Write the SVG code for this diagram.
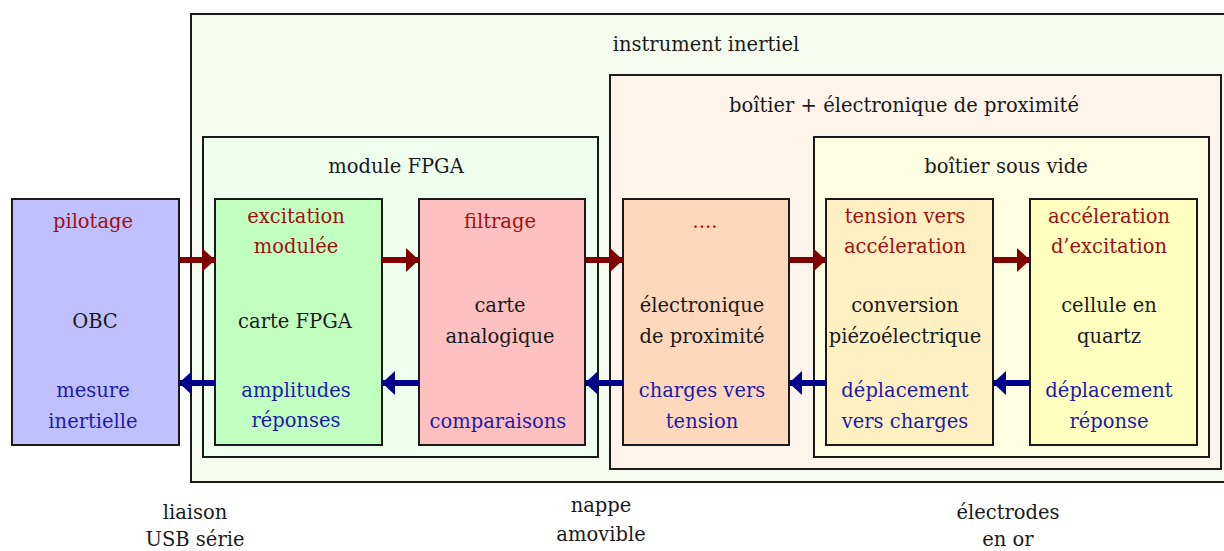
<svg xmlns="http://www.w3.org/2000/svg" width="1224" height="551" viewBox="0 0 1224 551">
<defs>
<style>
text{font-family:'DejaVu Serif','Liberation Serif',serif;font-size:19.5px;text-anchor:middle;fill:#1a1a1a}
.r{fill:#a01010}
.b{fill:#1c1ca8}
.box{stroke:#1a1a1a;stroke-width:2}
.ar{stroke:#800000;stroke-width:6;fill:none}
.ab{stroke:#00008a;stroke-width:6;fill:none}
</style>
<marker id="mr" markerWidth="14" markerHeight="24" refX="13" refY="12" orient="auto" markerUnits="userSpaceOnUse"><path d="M0,0 L13,12 L0,24 Z" fill="#800000"/></marker>
<marker id="mb" markerWidth="14" markerHeight="24" refX="13" refY="12" orient="auto" markerUnits="userSpaceOnUse"><path d="M0,0 L13,12 L0,24 Z" fill="#00008a"/></marker>
</defs>
<rect width="1224" height="551" fill="#fff"/>
<g id="instrument">
<rect class="box" x="191" y="14" width="1040" height="468" fill="#f5fcef"/>
<text x="706" y="51">instrument inertiel</text>
</g>
<g id="boitier-electronique">
<rect class="box" x="610" y="75" width="611" height="394" fill="#fdf5eb"/>
<text x="904" y="112">boîtier + électronique de proximité</text>
</g>
<g id="module-fpga">
<rect class="box" x="203" y="137" width="395" height="320" fill="#eefff0"/>
<text x="396" y="173">module FPGA</text>
</g>
<g id="boitier-vide">
<rect class="box" x="814" y="137" width="395" height="320" fill="#fffde2"/>
<text x="1006" y="173">boîtier sous vide</text>
</g>
<g id="obc">
<rect class="box" x="12" y="199" width="167" height="246" fill="#c0c0ff"/>
<text class="r" x="93" y="228">pilotage</text>
<text x="95" y="328">OBC</text>
<text class="b" x="93" y="397">mesure</text>
<text class="b" x="93" y="428">inertielle</text>
</g>
<g id="carte-fpga">
<rect class="box" x="215" y="199" width="167" height="246" fill="#c0ffc0"/>
<text class="r" x="296" y="223">excitation</text>
<text class="r" x="296" y="253">modulée</text>
<text x="295" y="328">carte FPGA</text>
<text class="b" x="296" y="397">amplitudes</text>
<text class="b" x="296" y="427">réponses</text>
</g>
<g id="carte-analogique">
<rect class="box" x="419" y="199" width="166" height="246" fill="#ffc0c0"/>
<text class="r" x="500" y="228">filtrage</text>
<text x="500" y="312">carte</text>
<text x="500" y="343">analogique</text>
<text class="b" x="498" y="428">comparaisons</text>
</g>
<g id="electronique">
<rect class="box" x="623" y="199" width="166" height="246" fill="#fdd8bd"/>
<text class="r" x="705" y="228">....</text>
<text x="702" y="312">électronique</text>
<text x="702" y="343">de proximité</text>
<text class="b" x="702" y="397">charges vers</text>
<text class="b" x="702" y="428">tension</text>
</g>
<g id="conversion">
<rect class="box" x="826" y="199" width="167" height="246" fill="#fff0c2"/>
<text class="r" x="905" y="223">tension vers</text>
<text class="r" x="905" y="253">accéleration</text>
<text x="905" y="312">conversion</text>
<text x="905" y="343">piézoélectrique</text>
<text class="b" x="905" y="397">déplacement</text>
<text class="b" x="905" y="428">vers charges</text>
</g>
<g id="cellule">
<rect class="box" x="1030" y="199" width="167" height="246" fill="#ffffc0"/>
<text class="r" x="1109" y="223">accéleration</text>
<text class="r" x="1109" y="253">d’excitation</text>
<text x="1109" y="312">cellule en</text>
<text x="1109" y="343">quartz</text>
<text class="b" x="1109" y="397">déplacement</text>
<text class="b" x="1109" y="428">réponse</text>
</g>
<g id="connectors">
<line class="ar" x1="179" y1="260" x2="215" y2="260" marker-end="url(#mr)"/>
<line class="ar" x1="382" y1="260" x2="419" y2="260" marker-end="url(#mr)"/>
<line class="ar" x1="585" y1="260" x2="623" y2="260" marker-end="url(#mr)"/>
<line class="ar" x1="789" y1="260" x2="826" y2="260" marker-end="url(#mr)"/>
<line class="ar" x1="993" y1="260" x2="1030" y2="260" marker-end="url(#mr)"/>
<line class="ab" x1="215" y1="383" x2="179" y2="383" marker-end="url(#mb)"/>
<line class="ab" x1="419" y1="383" x2="382" y2="383" marker-end="url(#mb)"/>
<line class="ab" x1="623" y1="383" x2="585" y2="383" marker-end="url(#mb)"/>
<line class="ab" x1="826" y1="383" x2="789" y2="383" marker-end="url(#mb)"/>
<line class="ab" x1="1030" y1="383" x2="993" y2="383" marker-end="url(#mb)"/>
</g>
<g id="labels">
<text x="195" y="519">liaison</text>
<text x="195" y="546">USB série</text>
<text x="601" y="512">nappe</text>
<text x="601" y="541">amovible</text>
<text x="1008" y="519">électrodes</text>
<text x="1008" y="546">en or</text>
</g>
</svg>
